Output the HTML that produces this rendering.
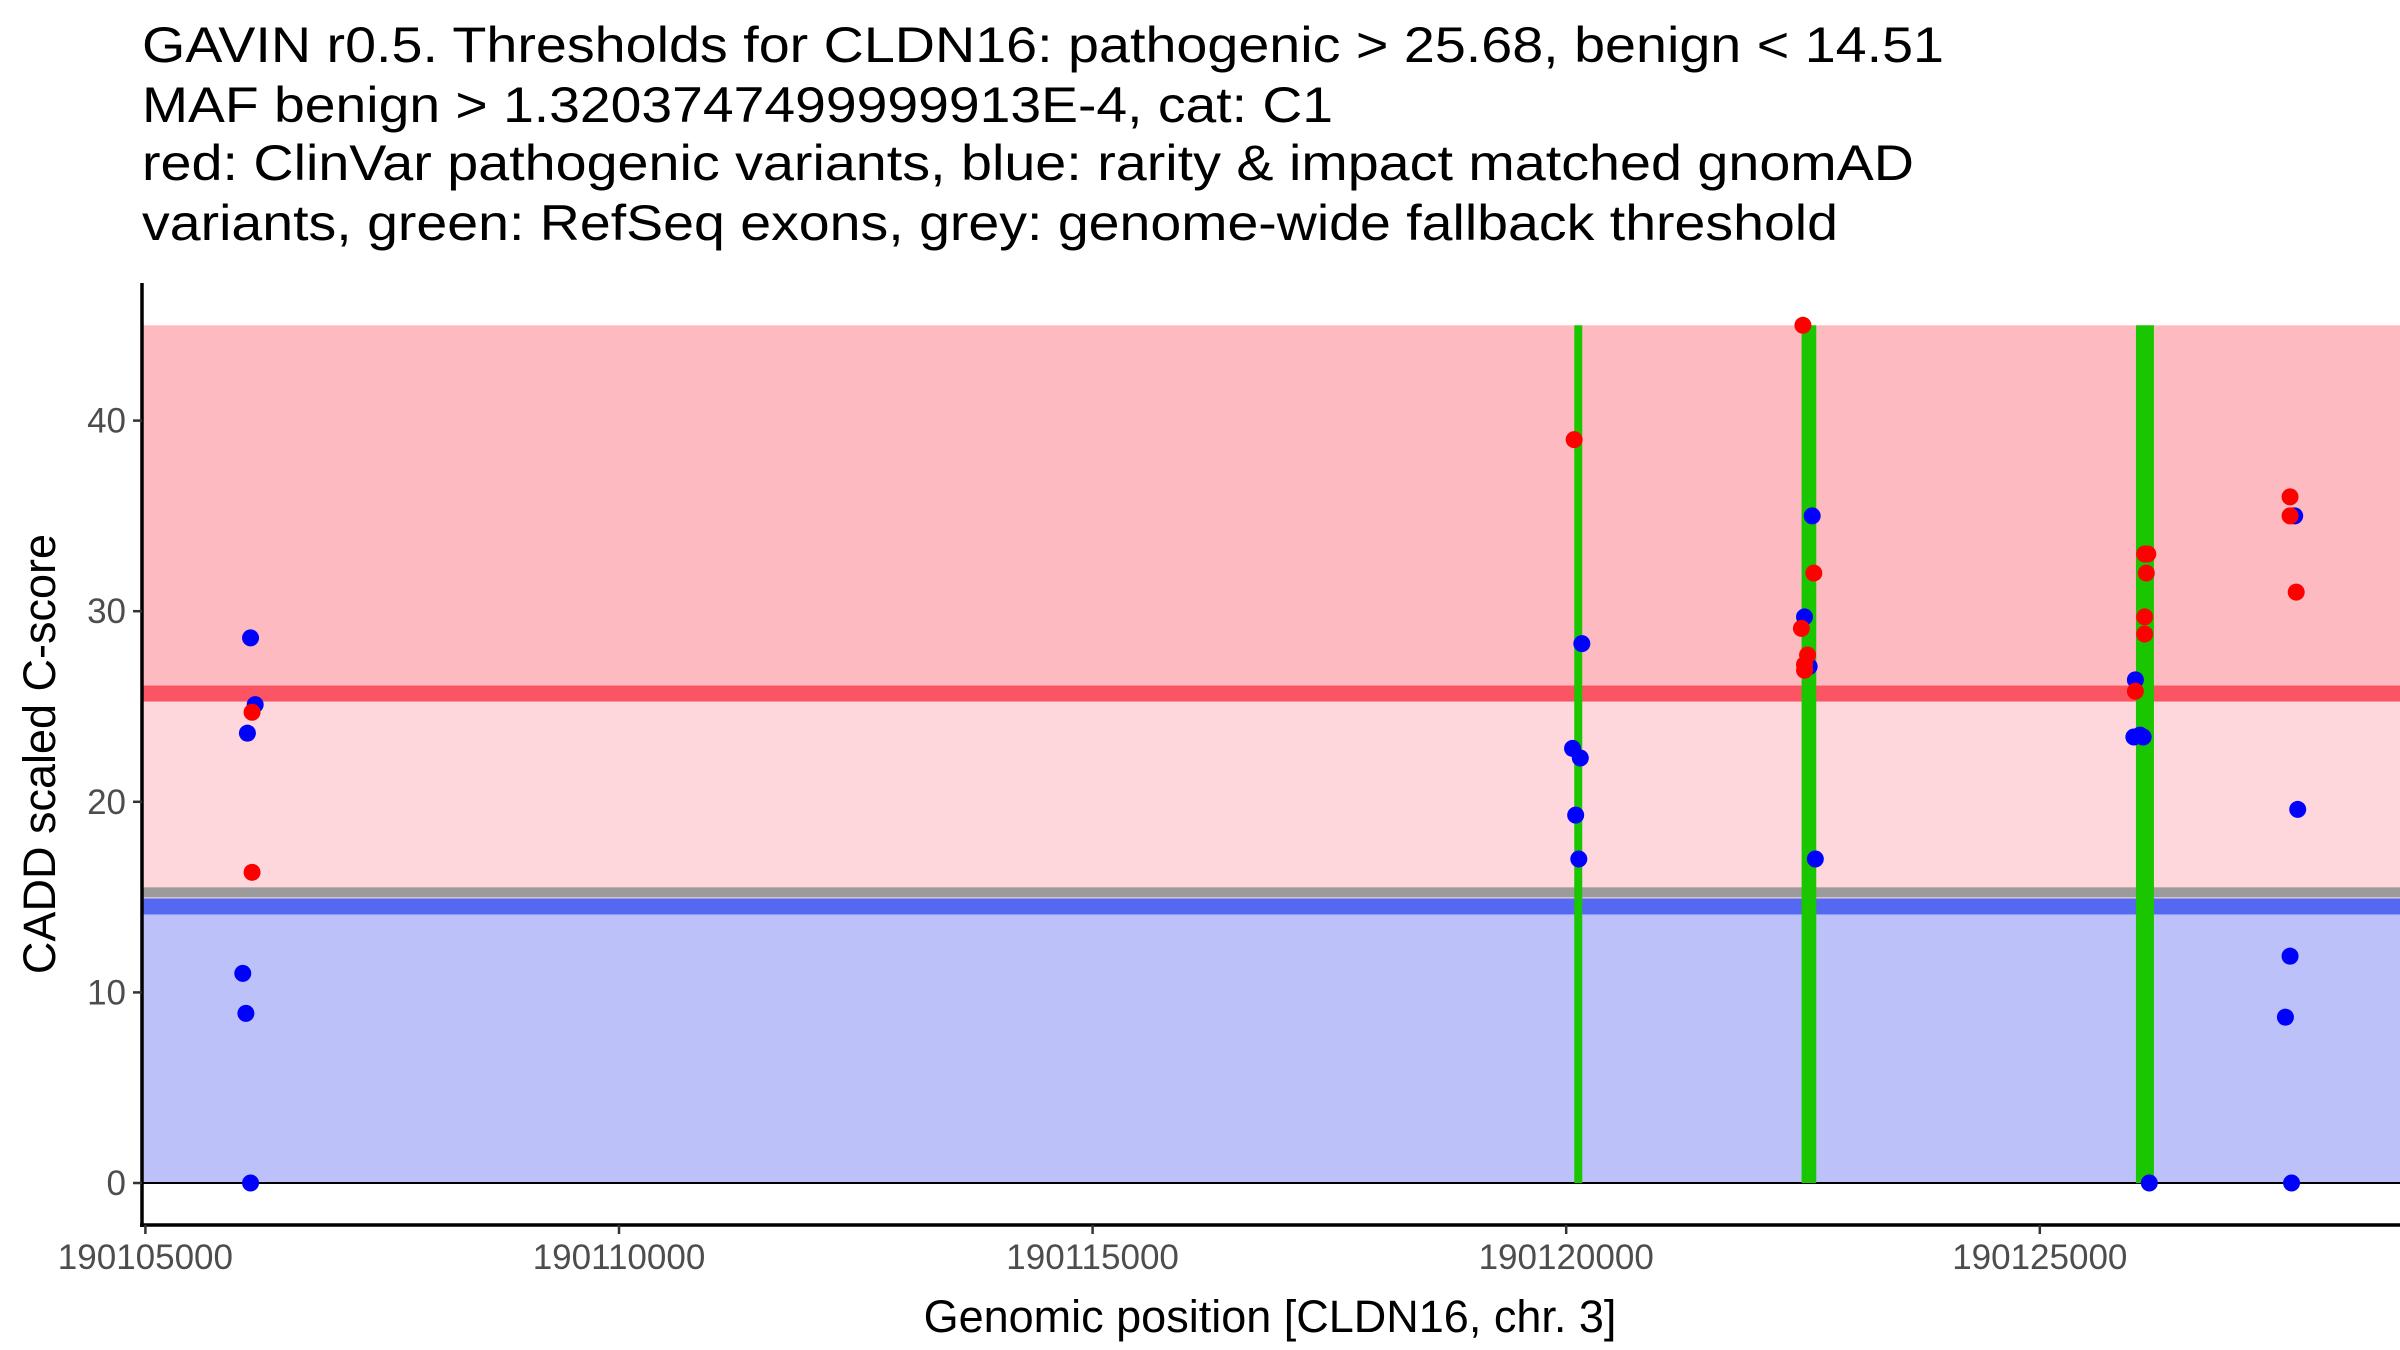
<!DOCTYPE html>
<html><head><meta charset="utf-8"><style>
html,body{margin:0;padding:0;background:#fff;}
svg{display:block;font-family:"Liberation Sans",Arial,sans-serif;}
</style></head><body>
<svg id="chart" width="2400" height="1350" viewBox="0 0 2400 1350" xmlns="http://www.w3.org/2000/svg">
<g font-size="50" fill="#000">
<text x="142" y="62" textLength="1802" lengthAdjust="spacingAndGlyphs">GAVIN r0.5. Thresholds for CLDN16: pathogenic &gt; 25.68, benign &lt; 14.51</text>
<text x="142" y="122" textLength="1191" lengthAdjust="spacingAndGlyphs">MAF benign &gt; 1.3203747499999913E-4, cat: C1</text>
<text x="142" y="180" textLength="1772" lengthAdjust="spacingAndGlyphs">red: ClinVar pathogenic variants, blue: rarity &amp; impact matched gnomAD</text>
<text x="142" y="240" textLength="1696" lengthAdjust="spacingAndGlyphs">variants, green: RefSeq exons, grey: genome-wide fallback threshold</text>
</g>
<g id="plot"></g>
</svg>
<script>
const xTicks=[190105000,190110000,190115000,190120000,190125000];
const yTicks=[0,10,20,30,40];
const pathThr=25.68, benignThr=14.51, fallbackThr=15.25, bandTop=45;
const exonStart=[190120085,190122485,190126015];
const exonEnd=[190120150,190122640,190126205];
const redX=[190106126,190106126,190120084,190122499,190122614,190122483,190122548,190122516,190122516,190126107,190126140,190126124,190126107,190126107,190126009,190127642,190127642,190127707];
const redY=[24.7,16.3,39,45,32,29.1,27.7,27.2,26.9,33,33,32,29.7,28.8,25.8,36,35,31];
const blueX=[190106110,190106159,190106077,190106028,190106061,190106110,190120165,190120067,190120149,190120100,190120133,190122597,190122516,190122565,190122630,190126009,190126058,190125993,190126091,190126156,190127691,190127723,190127642,190127593,190127658];
const blueY=[28.6,25.1,23.6,11.0,8.9,0,28.3,22.8,22.3,19.3,17.0,35,29.7,27.1,17.0,26.4,23.5,23.4,23.4,0,35,19.6,11.9,8.7,0];

const NS="http://www.w3.org/2000/svg";
const L=142,R=2400,T=283,B=1225;
const X=v=>145.4+(v-190105000)/5000*473.6;
const Y=v=>1183-v*19.06;
const g=document.getElementById('plot');
function el(tag,attrs,parent){const e=document.createElementNS(NS,tag);for(const k in attrs)e.setAttribute(k,attrs[k]);(parent||g).appendChild(e);return e;}

let e;
e=el('rect',{x:L,y:Y(bandTop),width:R-L,height:Y(pathThr)-Y(bandTop),fill:'#fdbbc1'});


e=el('rect',{x:L,y:Y(pathThr),width:R-L,height:Y(benignThr)-Y(pathThr),fill:'#fdd7dc'});


e=el('rect',{x:L,y:Y(benignThr),width:R-L,height:Y(0)-Y(benignThr),fill:'#bcc1f9'});


e=el('rect',{x:L,y:Y(pathThr)-8,width:R-L,height:16,fill:'#fb5564'});


e=el('rect',{x:L,y:Y(fallbackThr)-5,width:R-L,height:10,fill:'#9b9b9b'});


e=el('rect',{x:L,y:Y(benignThr)-8,width:R-L,height:16,fill:'#5468f1'});


e=el('line',{x1:L,x2:R,y1:Y(0),y2:Y(0),stroke:'#000','stroke-width':2});



for(let i=0;i<exonStart.length;i++){
  e=el('rect',{x:X(exonStart[i]),y:Y(bandTop),width:Math.max(8,X(exonEnd[i])-X(exonStart[i])),height:Y(0)-Y(bandTop),fill:'#1ac600'});
  
  
}
for(let i=0;i<blueX.length;i++){
  e=el('circle',{cx:X(blueX[i]),cy:Y(blueY[i]),r:8.5,fill:'#0000ff'});
  
  
}
for(let i=0;i<redX.length;i++){
  e=el('circle',{cx:X(redX[i]),cy:Y(redY[i]),r:8.5,fill:'#ff0000'});
  
  
}
e=el('line',{x1:L,x2:L,y1:T,y2:B+2,stroke:'#000','stroke-width':3.5});


e=el('line',{x1:L-2,x2:R,y1:B,y2:B,stroke:'#000','stroke-width':3.5});


yTicks.forEach(v=>{
  e=el('line',{x1:L-9,x2:L,y1:Y(v),y2:Y(v),stroke:'#333','stroke-width':2.5});
  
  
  e=el('text',{x:L-16,y:Y(v)+12,'text-anchor':'end','font-size':35,fill:'#4d4d4d'});
  e.textContent=v;
  
  
});
xTicks.forEach(v=>{
  e=el('line',{x1:X(v),x2:X(v),y1:B,y2:B+9,stroke:'#333','stroke-width':2.5});
  
  
  e=el('text',{x:X(v),y:B+44,'text-anchor':'middle','font-size':35,fill:'#4d4d4d'});
  e.textContent=v;
  
  
});
e=el('text',{x:1270,y:1332,'text-anchor':'middle','font-size':45,fill:'#000'});
e.textContent='Genomic position [CLDN16, chr. 3]';


e=el('text',{x:0,y:0,'text-anchor':'middle','font-size':45,fill:'#000',transform:'translate(55,754) rotate(-90)'});
e.textContent='CADD scaled C-score';


</script>
</body></html>
